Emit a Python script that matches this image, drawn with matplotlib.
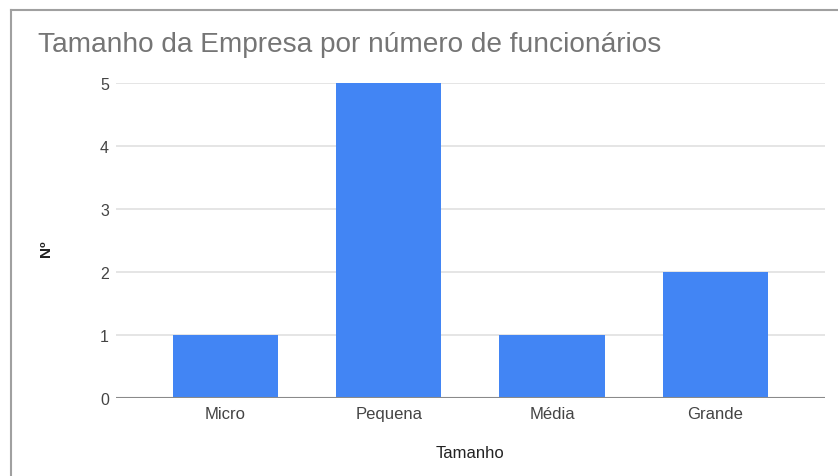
import matplotlib.pyplot as plt
from matplotlib.lines import Line2D

plt.rcParams["font.family"] = ["Liberation Sans", "DejaVu Sans"]

# dados do gráfico
categorias = ["Micro", "Pequena", "Média", "Grande"]
quantidade = [1, 5, 1, 2]
yticks = [0, 1, 2, 3, 4, 5]

fig = plt.figure(figsize=(8.38, 4.77), dpi=100)
ax = fig.add_axes([0.1384, 0.1635, 0.846, 0.6604])

x = range(len(categorias))
ax.bar(x, quantidade, width=0.645, color="#4285f4", zorder=3)

ax.set_xlim(-0.67, 3.67)
ax.set_ylim(0, 5)
ax.set_yticks(yticks)
ax.set_xticks(list(x))
ax.set_xticklabels(categorias)

# grade horizontal clara, linha de base mais escura
ax.grid(axis="y", color="#e0e0e0", linewidth=1.2, zorder=0)
ax.axhline(0, color="#8a8a8a", linewidth=1.5, zorder=4)
for s in ax.spines.values():
    s.set_visible(False)
ax.tick_params(length=0, labelsize=12, colors="#444444")
ax.tick_params(axis="y", pad=5, labelsize=11.5)
ax.tick_params(axis="x", pad=6)

ax.set_xlabel("Tamanho", fontsize=12, color="#222222", labelpad=17)
ax.set_ylabel("Nº", fontsize=11, color="#222222", fontweight="bold")
ax.yaxis.set_label_coords(-0.089, 0.476)

fig.text(38 / 838, 1 - 45 / 477, "Tamanho da Empresa por número de funcionários",
         fontsize=20.2, color="#757575", va="center", ha="left")

# moldura do gráfico
fig.add_artist(Line2D([11 / 838, 1], [1 - 11 / 477] * 2, color="#a0a0a0", lw=1.5))
fig.add_artist(Line2D([11 / 838] * 2, [0, 1 - 11 / 477], color="#a0a0a0", lw=1.5))

plt.savefig("out.png", dpi=100)
